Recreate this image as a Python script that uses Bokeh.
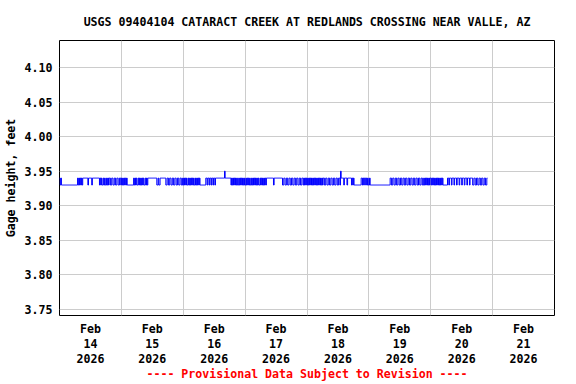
import numpy as np
import pandas as pd
from bokeh.plotting import figure
from bokeh.models import Range1d, FixedTicker
from bokeh.embed import file_html
from bokeh.resources import INLINE

TITLE = "USGS 09404104 CATARACT CREEK AT REDLANDS CROSSING NEAR VALLE, AZ"
Y_LABEL = "Gage height, feet"
FOOTNOTE = "---- Provisional Data Subject to Revision ----"

START = "2026-02-14 00:00"
INTERVAL_MIN = 15
LEVELS = {"3": 3.93, "4": 3.94, "5": 3.95}

# gage readings, one character per 15-minute reading (3 -> 3.93, 4 -> 3.94, 5 -> 3.95)
DAY_14 = ["434", "3" * 25, "434343434", "4444444", "3", "44444", "3", "44444444444",
          "343433434334343", "4433443344", "334433443"]
DAY_15 = ["434343434", "3" * 9, "34343433434343434334343", "4" * 14, "33433", "4" * 7,
          "4433443344", "3344334433", "443344334"]
DAY_16 = ["34343433434343434334343434", "3" * 9, "4434434434434434", "4" * 13, "5", "4" * 9,
          "3434343434334343434343"]
DAY_17 = ["3434343433", "4343434343", "4334343434", "343", "4" * 11, "3", "4" * 11,
          "4433443344", "3344334433", "4433443344", "3344", "343434"]
DAY_18 = ["3434343434", "3434343434", "34343", "4433443344", "3344334433", "4433443", "5",
          "444434444344444", "43434", "3" * 11, "443434434343"]
DAY_19 = ["343", "3" * 30, "4433443344", "3344334433", "4433443344", "3344334433",
          "4433443344", "33", "4343434343", "4"]
DAY_20 = ["4343434343", "434343434", "3" * 7, "4434443444", "3444344434", "4434443444",
          "3444344", "4433443344", "3344334433", "443344"]

X_TICK_DAYS = ["2026-02-14", "2026-02-15", "2026-02-16", "2026-02-17",
               "2026-02-18", "2026-02-19", "2026-02-20", "2026-02-21"]
X_TICK_LABELS = ["Feb\n14\n2026", "Feb\n15\n2026", "Feb\n16\n2026", "Feb\n17\n2026",
                 "Feb\n18\n2026", "Feb\n19\n2026", "Feb\n20\n2026", "Feb\n21\n2026"]
Y_TICKS = [3.75, 3.80, 3.85, 3.90, 3.95, 4.00, 4.05, 4.10]
X_START = "2026-02-14 00:00"
X_END = "2026-02-22 00:00"
Y_START = 3.7414
Y_END = 4.1389

codes = "".join("".join(d) for d in [DAY_14, DAY_15, DAY_16, DAY_17, DAY_18, DAY_19, DAY_20])
values = np.array([LEVELS[c] for c in codes])
times = pd.date_range(START, periods=len(values), freq=f"{INTERVAL_MIN}min")

def ms(t):
    return int(pd.Timestamp(t).value // 10**6)

FONT = "DejaVu Sans Mono"
FS = "11.6px"

p = figure(width=576, height=384, x_axis_type="datetime",
           x_range=Range1d(pd.Timestamp(X_START), pd.Timestamp(X_END)),
           y_range=Range1d(Y_START, Y_END),
           output_backend="svg", toolbar_location=None,
           min_border_left=58, min_border_right=22, min_border_top=40, min_border_bottom=68)

p.background_fill_color = "white"
p.border_fill_color = "white"
p.outline_line_color = "black"
p.outline_line_width = 1

p.title.text = TITLE
p.title.align = "center"
p.title.text_font = FONT
p.title.text_font_size = FS
p.title.text_font_style = "bold"
p.title.text_color = "black"
p.title.standoff = 23

# x axis: labels at noon, grid at midnight
noon_ticks = [ms(pd.Timestamp(d) + pd.Timedelta(hours=12)) for d in X_TICK_DAYS]
mid_ticks = [ms(pd.Timestamp(d)) for d in X_TICK_DAYS[1:]]
xa = p.xaxis[0]
xa.ticker = FixedTicker(ticks=noon_ticks)
xa.major_label_overrides = {t: lab for t, lab in zip(noon_ticks, X_TICK_LABELS)}
xa.major_tick_in = 0
xa.major_tick_out = 0
xa.minor_tick_in = 0
xa.minor_tick_out = 0
xa.axis_line_color = None
xa.major_label_text_font = FONT
xa.major_label_text_font_size = FS
xa.major_label_text_font_style = "bold"
xa.major_label_text_color = "black"
xa.major_label_text_line_height = 1.1
xa.major_label_standoff = 6
xa.axis_label = FOOTNOTE
xa.axis_label_text_font = FONT
xa.axis_label_text_font_size = FS
xa.axis_label_text_font_style = "bold"
xa.axis_label_text_color = "red"
xa.axis_label_standoff = -2

p.xgrid.ticker = FixedTicker(ticks=mid_ticks)
p.xgrid.grid_line_color = "#cccccc"

ya = p.yaxis[0]
ya.ticker = FixedTicker(ticks=Y_TICKS)
ya.major_label_overrides = {t: f"{t:.2f}" for t in Y_TICKS}
ya.major_tick_in = 0
ya.major_tick_out = 0
ya.minor_tick_in = 0
ya.minor_tick_out = 0
ya.axis_line_color = None
ya.major_label_text_font = FONT
ya.major_label_text_font_size = FS
ya.major_label_text_font_style = "bold"
ya.major_label_text_color = "black"
ya.major_label_standoff = 7
ya.axis_label = Y_LABEL
ya.axis_label_text_font = FONT
ya.axis_label_text_font_size = FS
ya.axis_label_text_font_style = "bold"
ya.axis_label_text_color = "black"
ya.axis_label_standoff = 4

p.ygrid.grid_line_color = "#cccccc"

p.step(times, values, mode="after", line_color="#0000ff", line_width=1)

open("out.html", "w").write(file_html(p, INLINE))
